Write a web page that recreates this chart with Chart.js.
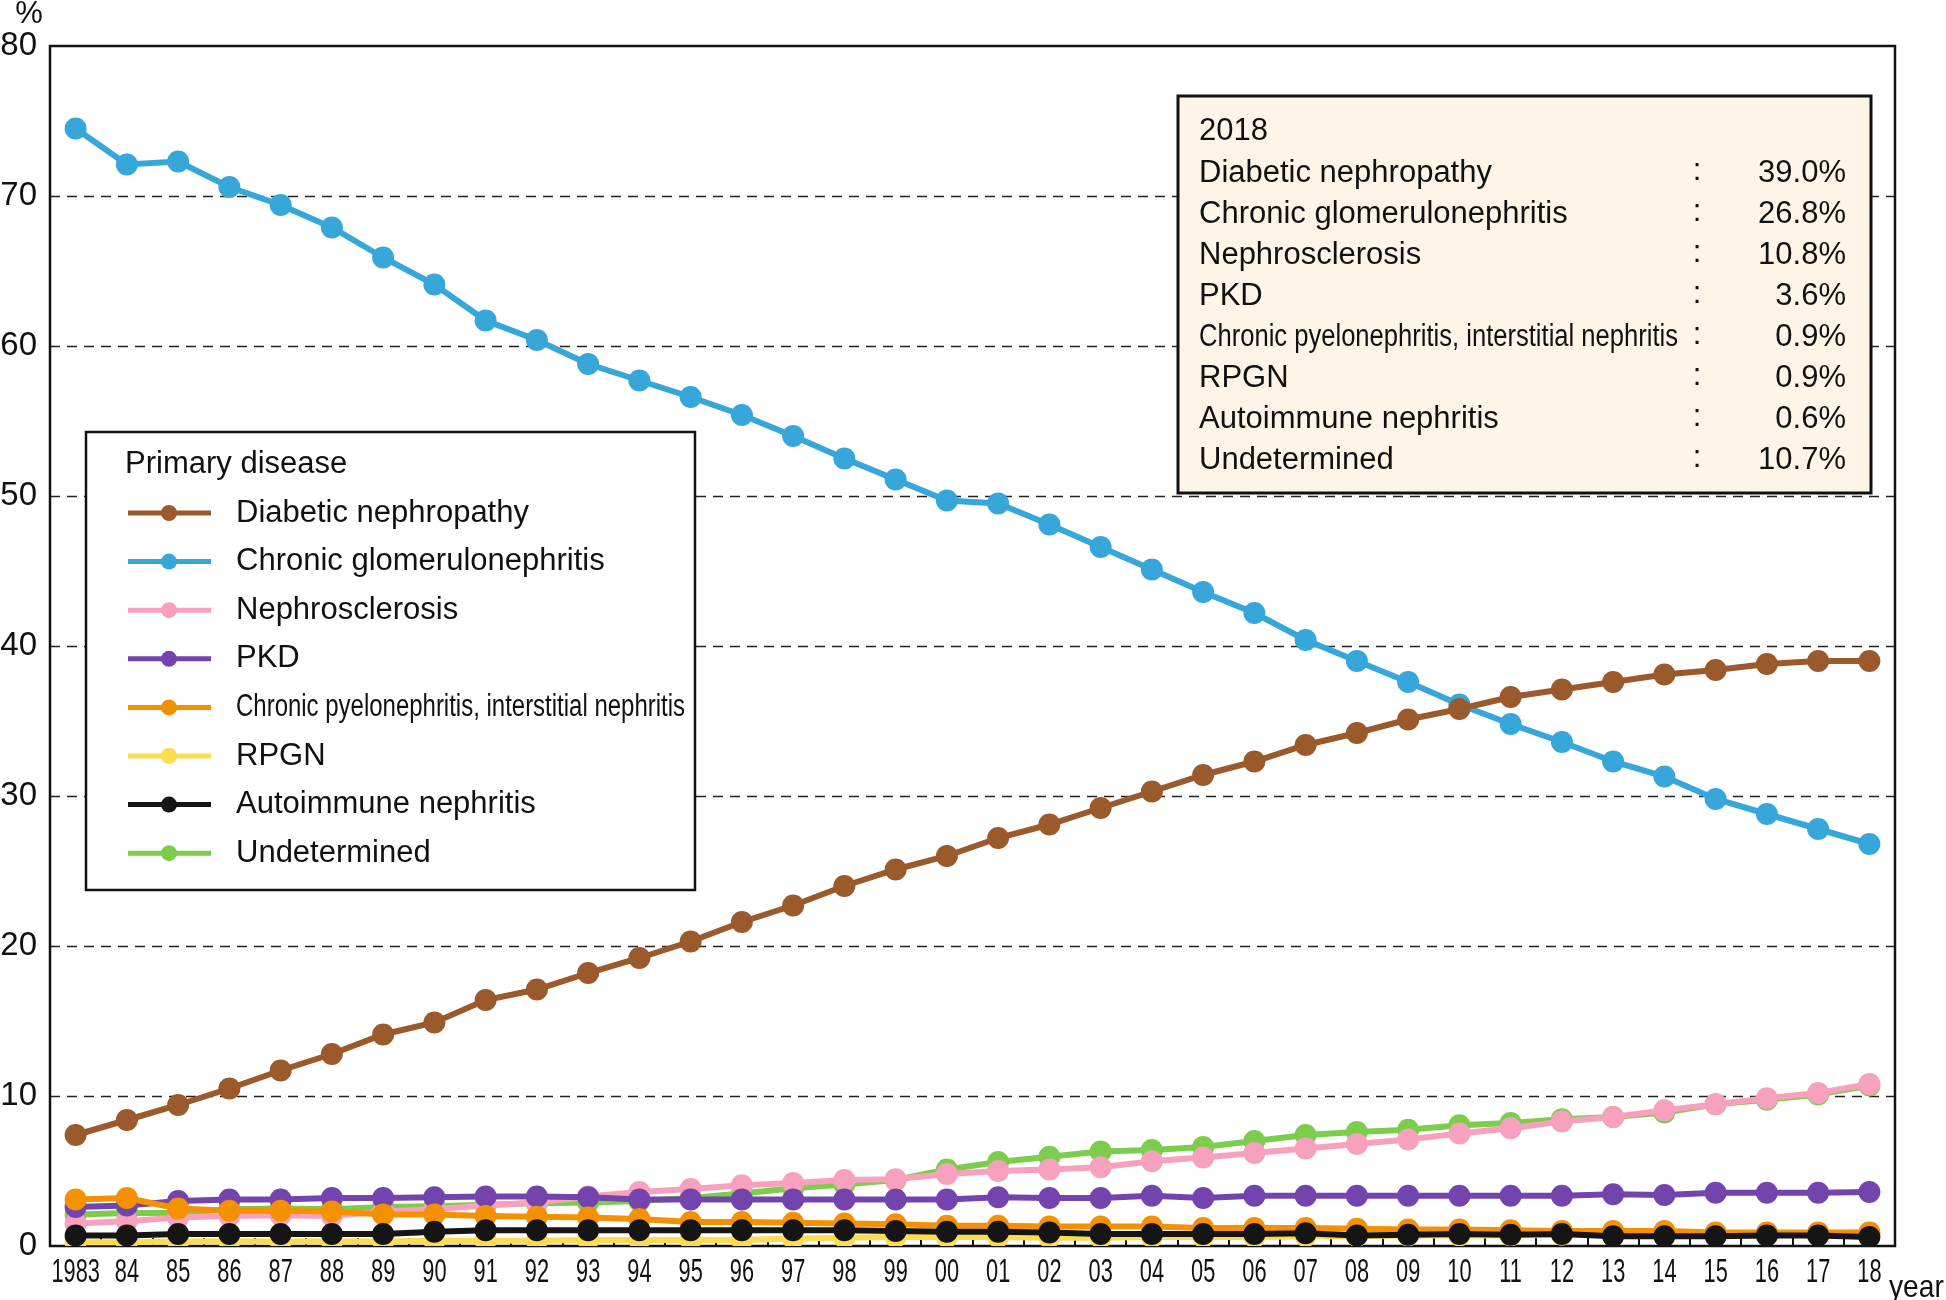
<!DOCTYPE html>
<html>
<head>
<meta charset="utf-8">
<title>Primary disease trend</title>
<script src="https://cdn.jsdelivr.net/npm/chart.js@4.4.1/dist/chart.umd.min.js"></script>
<style>
  html, body { margin: 0; padding: 0; background: #fff; }
  canvas { display: block; }
</style>
</head>
<body>
<canvas id="trendChart" width="1946" height="1300"></canvas>
<script>
// Years on the x axis
const years = ['1983', '84', '85', '86', '87', '88', '89', '90', '91', '92',
    '93', '94', '95', '96', '97', '98', '99', '00', '01', '02',
    '03', '04', '05', '06', '07', '08', '09', '10', '11', '12',
    '13', '14', '15', '16', '17', '18'];

// Series names (legend order)
const diseaseNames = ['Diabetic nephropathy', 'Chronic glomerulonephritis', 'Nephrosclerosis', 'PKD',
    'Chronic pyelonephritis, interstitial nephritis', 'RPGN', 'Autoimmune nephritis', 'Undetermined'];

// Percent of new patients per year
const diabetic = [7.4, 8.4, 9.4, 10.5, 11.7, 12.8, 14.1, 14.9, 16.4, 17.1,
    18.2, 19.2, 20.3, 21.6, 22.7, 24.0, 25.1, 26.0, 27.2, 28.1,
    29.2, 30.3, 31.4, 32.3, 33.4, 34.2, 35.1, 35.8, 36.6, 37.1,
    37.6, 38.1, 38.4, 38.8, 39.0, 39.0];
const glomerulo = [74.5, 72.1, 72.3, 70.6, 69.4, 67.9, 65.9, 64.1, 61.7, 60.4,
    58.8, 57.7, 56.6, 55.4, 54.0, 52.5, 51.1, 49.7, 49.5, 48.1,
    46.6, 45.1, 43.6, 42.2, 40.4, 39.0, 37.6, 36.1, 34.8, 33.6,
    32.3, 31.3, 29.8, 28.8, 27.8, 26.8];
const sclerosis = [1.5, 1.65, 1.9, 2.0, 2.05, 2.0, 2.3, 2.45, 2.7, 2.9,
    3.3, 3.6, 3.8, 4.05, 4.2, 4.4, 4.45, 4.8, 5.0, 5.1,
    5.25, 5.65, 5.9, 6.2, 6.5, 6.8, 7.1, 7.5, 7.85, 8.3,
    8.6, 9.05, 9.45, 9.85, 10.2, 10.8];
const pkd = [2.6, 2.7, 3.0, 3.1, 3.1, 3.2, 3.2, 3.25, 3.3, 3.3,
    3.25, 3.1, 3.1, 3.1, 3.1, 3.1, 3.1, 3.1, 3.25, 3.2,
    3.2, 3.35, 3.2, 3.35, 3.35, 3.35, 3.35, 3.35, 3.35, 3.35,
    3.45, 3.4, 3.55, 3.55, 3.55, 3.6];
const pyelo = [3.1, 3.2, 2.5, 2.35, 2.35, 2.3, 2.1, 2.1, 2.0, 1.95,
    1.9, 1.8, 1.6, 1.6, 1.55, 1.5, 1.45, 1.35, 1.35, 1.3,
    1.3, 1.3, 1.2, 1.2, 1.2, 1.15, 1.1, 1.1, 1.05, 1.0,
    1.0, 1.0, 0.9, 0.9, 0.9, 0.9];
const rpgn = [0.25, 0.25, 0.3, 0.3, 0.3, 0.3, 0.3, 0.35, 0.35, 0.35,
    0.4, 0.4, 0.4, 0.4, 0.5, 0.55, 0.6, 0.6, 0.6, 0.55,
    0.55, 0.6, 0.6, 0.6, 0.65, 0.65, 0.7, 0.7, 0.7, 0.75,
    0.8, 0.8, 0.8, 0.85, 0.85, 0.9];
const autoimmune = [0.7, 0.7, 0.8, 0.8, 0.8, 0.8, 0.8, 0.95, 1.05, 1.05,
    1.05, 1.05, 1.05, 1.05, 1.05, 1.05, 1.0, 0.95, 0.95, 0.9,
    0.8, 0.8, 0.8, 0.8, 0.85, 0.7, 0.75, 0.8, 0.75, 0.8,
    0.65, 0.65, 0.65, 0.7, 0.7, 0.6];
const undetermined = [2.1, 2.2, 2.2, 2.45, 2.5, 2.45, 2.6, 2.65, 2.75, 2.85,
    2.9, 3.0, 3.2, 3.5, 3.85, 4.1, 4.4, 5.1, 5.6, 5.95,
    6.3, 6.4, 6.6, 7.0, 7.4, 7.6, 7.75, 8.05, 8.2, 8.45,
    8.6, 8.9, 9.45, 9.75, 10.1, 10.7];

const yTicks = [0, 10, 20, 30, 40, 50, 60, 70, 80];

document.addEventListener('DOMContentLoaded', function() {
    const FONT = "'Liberation Sans', Arial, sans-serif";
    const series = [diabetic, glomerulo, sclerosis, pkd, pyelo, rpgn, autoimmune, undetermined];
    const colors = ['#9b5a2b', '#37a6d9', '#f7a1bf', '#7444ae', '#f39100', '#fddc4f', '#151515', '#7ccd4b'];
    // draw order: lower = on top
    const drawOrder = [6, 7, 3, 2, 1, 5, 0, 4];

    const datasets = series.map((values, i) => ({
        label: diseaseNames[i],
        data: values,
        borderColor: colors[i],
        backgroundColor: colors[i],
        pointBackgroundColor: colors[i],
        borderWidth: 6,
        pointRadius: 11,
        pointBorderWidth: 0,
        tension: 0,
        order: drawOrder[i]
    }));

    // text squeezed horizontally (the original uses a condensed face)
    function drawText(ctx, text, x, y, align, scaleX, maxWidth) {
        let sx = scaleX || 1;
        if (maxWidth) {
            sx = maxWidth / ctx.measureText(text).width;
        }
        ctx.save();
        ctx.translate(x, y);
        ctx.scale(sx, 1);
        ctx.textAlign = align;
        ctx.fillText(text, 0, 0);
        ctx.restore();
    }

    const decorPlugin = {
        id: 'decor',
        beforeDatasetsDraw(chart) {
            const ctx = chart.ctx;
            const area = chart.chartArea;
            const yScale = chart.scales.y;
            ctx.save();
            // dashed grid
            ctx.strokeStyle = '#222';
            ctx.lineWidth = 1.6;
            ctx.setLineDash([10, 7]);
            yTicks.slice(1, -1).forEach(v => {
                const y = Math.round(yScale.getPixelForValue(v)) + 0.5;
                ctx.beginPath();
                ctx.moveTo(area.left, y);
                ctx.lineTo(area.right, y);
                ctx.stroke();
            });
            ctx.setLineDash([]);
            // frame
            ctx.lineWidth = 2.5;
            ctx.strokeStyle = '#111';
            ctx.strokeRect(area.left, area.top, area.right - area.left, area.bottom - area.top);
            // small inner ticks between years
            const xScale = chart.scales.x;
            ctx.lineWidth = 2;
            for (let i = 0; i < years.length - 1; i++) {
                const x = Math.round((xScale.getPixelForValue(i) + xScale.getPixelForValue(i + 1)) / 2);
                ctx.beginPath();
                ctx.moveTo(x, area.bottom);
                ctx.lineTo(x, area.bottom - 8);
                ctx.stroke();
            }
            ctx.restore();
        },
        afterDatasetsDraw(chart) {
            const ctx = chart.ctx;
            const area = chart.chartArea;
            const xScale = chart.scales.x;
            ctx.save();
            ctx.fillStyle = '#111';
            ctx.textBaseline = 'middle';

            // x labels
            ctx.font = '33px ' + FONT;
            years.forEach((label, i) => {
                drawText(ctx, label, xScale.getPixelForValue(i), area.bottom + 27, 'center', 0.66);
            });
            ctx.font = '32px ' + FONT;
            drawText(ctx, 'year', area.right - 6, area.bottom + 42, 'left', 0.88);
            ctx.font = '31px ' + FONT;
            drawText(ctx, '%', 29, 14, 'center', 1);

            // legend box
            const lg = { x: 86, y: 432, w: 609, h: 458 };
            ctx.fillStyle = '#fff';
            ctx.fillRect(lg.x, lg.y, lg.w, lg.h);
            ctx.lineWidth = 2.5;
            ctx.strokeStyle = '#111';
            ctx.strokeRect(lg.x, lg.y, lg.w, lg.h);
            ctx.fillStyle = '#111';
            ctx.font = '31px ' + FONT;
            drawText(ctx, 'Primary disease', 125, 464, 'left', 1);
            diseaseNames.forEach((name, i) => {
                const y = 513 + i * 48.6;
                ctx.strokeStyle = colors[i];
                ctx.lineWidth = 5;
                ctx.beginPath();
                ctx.moveTo(128, y);
                ctx.lineTo(211, y);
                ctx.stroke();
                ctx.fillStyle = colors[i];
                ctx.beginPath();
                ctx.arc(169, y, 8, 0, Math.PI * 2);
                ctx.fill();
                ctx.fillStyle = '#111';
                if (name.length > 30) {
                    drawText(ctx, name, 236, y, 'left', null, 449);
                } else {
                    drawText(ctx, name, 236, y, 'left', 1);
                }
            });

            // 2018 summary box
            const bx = { x: 1178, y: 96, w: 693, h: 397 };
            ctx.fillStyle = '#fef4e8';
            ctx.fillRect(bx.x, bx.y, bx.w, bx.h);
            ctx.lineWidth = 3;
            ctx.strokeStyle = '#111';
            ctx.strokeRect(bx.x, bx.y, bx.w, bx.h);
            ctx.fillStyle = '#111';
            const lastIdx = years.length - 1;
            drawText(ctx, '20' + years[lastIdx], 1199, 131, 'left', 1);
            diseaseNames.forEach((name, i) => {
                const y = 173 + i * 41;
                if (name.length > 30) {
                    drawText(ctx, name, 1199, y, 'left', null, 479);
                } else {
                    drawText(ctx, name, 1199, y, 'left', 1);
                }
                drawText(ctx, ':', 1697, y - 2, 'center', 1);
                drawText(ctx, series[i][lastIdx].toFixed(1) + '%', 1846, y, 'right', 1);
            });
            ctx.restore();
        }
    };

    new Chart(document.getElementById('trendChart'), {
        type: 'line',
        data: { labels: years, datasets: datasets },
        options: {
            responsive: false,
            animation: false,
            devicePixelRatio: 1,
            layout: { padding: { top: 46, right: 51, left: 0, bottom: 0 } },
            plugins: {
                legend: { display: false },
                tooltip: { enabled: false }
            },
            scales: {
                x: {
                    type: 'category',
                    offset: true,
                    grid: { display: false },
                    border: { display: false },
                    ticks: { display: false },
                    afterFit: function(scale) { scale.height = 54; }
                },
                y: {
                    min: 0,
                    max: 80,
                    grid: { display: false, drawTicks: false },
                    border: { display: false },
                    ticks: {
                        stepSize: 10,
                        padding: 13,
                        color: '#111',
                        font: { size: 33, family: FONT }
                    },
                    afterFit: function(scale) { scale.width = 50; }
                }
            }
        },
        plugins: [decorPlugin]
    });
});
</script>
</body>
</html>
